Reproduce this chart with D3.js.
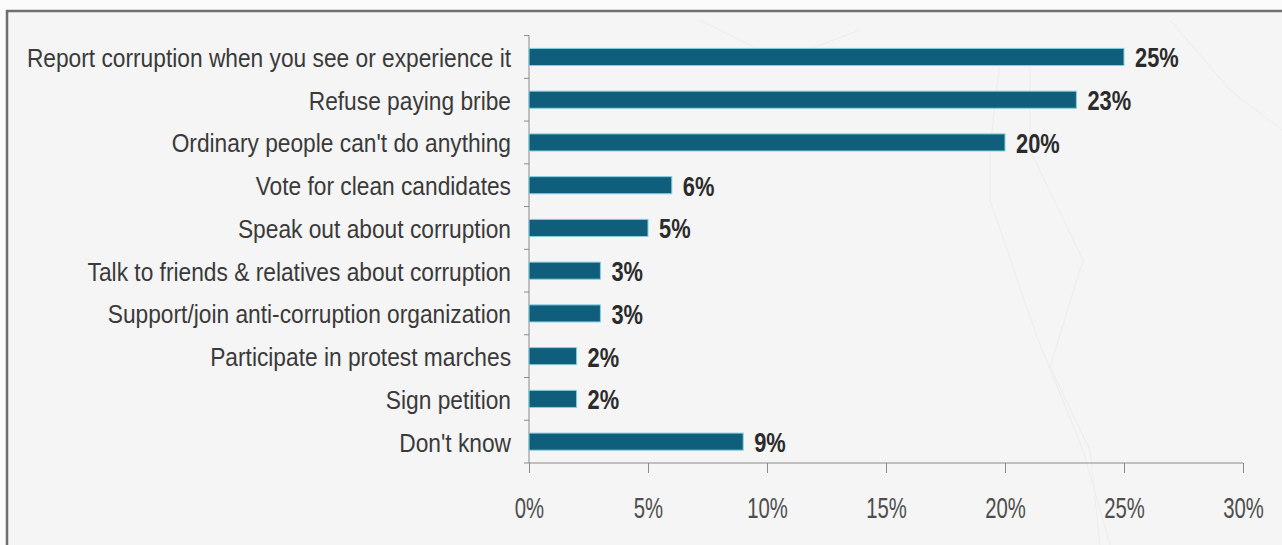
<!DOCTYPE html>
<html>
<head>
<meta charset="utf-8">
<script src="https://cdn.jsdelivr.net/npm/d3@7/dist/d3.min.js"></script>
<style>
  html, body { margin: 0; padding: 0; background: #fbfbfb; }
  svg { display: block; }
</style>
</head>
<body>
<script>
// Survey answers: what people would do about corruption
const categories = [
  "Report corruption when you see or experience it",
  "Refuse paying bribe",
  "Ordinary people can't do anything",
  "Vote for clean candidates",
  "Speak out about corruption",
  "Talk to friends & relatives about corruption",
  "Support/join anti-corruption organization",
  "Participate in protest marches",
  "Sign petition",
  "Don't know"
];
const values = [25, 23, 20, 6, 5, 3, 3, 2, 2, 9];
const xTicks = [0, 5, 10, 15, 20, 25, 30];

const W = 1282, H = 545;
const plot = { left: 529, right: 1243, top: 35.6, bottom: 463 };
const FONT = "'Liberation Sans', Arial, sans-serif";

const svg = d3.select("body").append("svg")
  .attr("width", W).attr("height", H);

// page and framed panel
svg.append("rect").attr("width", W).attr("height", H).attr("fill", "#fbfbfb");
svg.append("rect").attr("x", 7).attr("y", 11).attr("width", W).attr("height", H)
  .attr("fill", "#f5f5f5");

// faint decorative strokes in the panel background
const deco = [
  [[990, 150], [990, 200], [1037, 337], [1083, 450], [1110, 545]],
  [[1030, 150], [1083, 260], [1050, 367], [1090, 450], [1100, 545]],
  [[1000, 60], [990, 150]],
  [[1030, 60], [1030, 150]],
  [[700, 20], [780, 60], [860, 30]],
  [[1170, 20], [1230, 90], [1282, 130]]
];
svg.selectAll(".deco").data(deco).join("path")
  .attr("d", d3.line())
  .attr("fill", "none").attr("stroke", "#ececec").attr("stroke-width", 1);

svg.append("line").attr("x1", 6).attr("x2", W).attr("y1", 11).attr("y2", 11)
  .attr("stroke", "#6f6f6f").attr("stroke-width", 2.5);
svg.append("line").attr("x1", 7).attr("x2", 7).attr("y1", 10).attr("y2", H)
  .attr("stroke", "#6f6f6f").attr("stroke-width", 2.5);

const x = d3.scaleLinear().domain([0, 30]).range([plot.left, plot.right]);
const y = d3.scaleBand().domain(categories).range([plot.top, plot.bottom])
  .paddingInner(0.6).paddingOuter(0.3);

// y axis line with ticks at the category boundaries
const band = (plot.bottom - plot.top) / categories.length;
svg.append("line").attr("x1", plot.left).attr("x2", plot.left)
  .attr("y1", plot.top).attr("y2", plot.bottom).attr("stroke", "#8a8a8a");
svg.selectAll(".ytick").data(d3.range(categories.length + 1)).join("line")
  .attr("x1", plot.left - 5).attr("x2", plot.left)
  .attr("y1", i => plot.top + i * band).attr("y2", i => plot.top + i * band)
  .attr("stroke", "#8a8a8a");

// x axis
const xAxis = d3.axisBottom(x).tickValues(xTicks).tickSize(10).tickPadding(0)
  .tickFormat(d => d + "%");
const gx = svg.append("g").attr("transform", `translate(0,${plot.bottom})`).call(xAxis);
gx.select(".domain").attr("stroke", "#8a8a8a").attr("d", `M${plot.left},0H${plot.right}`);
gx.selectAll(".tick line").attr("stroke", "#8a8a8a");
gx.selectAll(".tick text")
  .attr("y", 0).attr("dy", 0)
  .attr("transform", "translate(0,55) scale(0.7,1)")
  .attr("font-family", FONT)
  .attr("font-size", 29).attr("fill", "#4d4d4d");

// bars
svg.selectAll(".bar").data(values).join("rect")
  .attr("x", x(0))
  .attr("y", (d, i) => y(categories[i]))
  .attr("width", d => x(d) - x(0))
  .attr("height", y.bandwidth())
  .attr("fill", "#0f5f7c")
  .attr("stroke", "#86cfe0").attr("stroke-width", 1);

// category labels, set in a condensed face
const catG = svg.selectAll(".cat").data(categories).join("g")
  .attr("transform", d => `translate(511,${y(d) + y.bandwidth() / 2 + 10}) scale(0.91,1)`);
catG.append("text")
  .attr("text-anchor", "end")
  .attr("font-family", FONT)
  .attr("font-size", 25).attr("fill", "#3a3a3a")
  .text(d => d);

// value labels at the bar ends
const valG = svg.selectAll(".val").data(values).join("g")
  .attr("transform", (d, i) => `translate(${x(d) + 11},${y(categories[i]) + y.bandwidth() / 2 + 10.5}) scale(0.78,1)`);
valG.append("text")
  .attr("font-family", FONT)
  .attr("font-weight", "bold")
  .attr("font-size", 28).attr("fill", "#2b2b2b")
  .text(d => d + "%");
</script>
</body>
</html>
